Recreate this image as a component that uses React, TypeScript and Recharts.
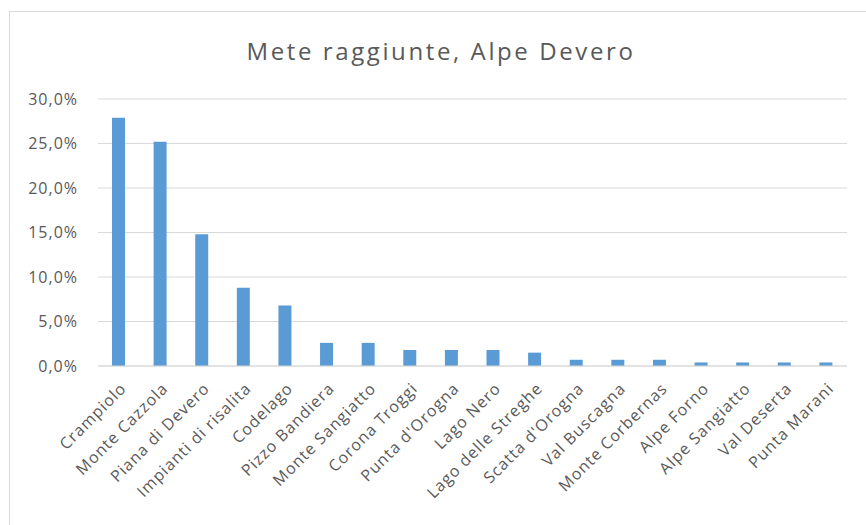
import { BarChart, Bar, XAxis, YAxis, CartesianGrid } from "recharts"

const mete = [
  "Crampiolo",
  "Monte Cazzola",
  "Piana di Devero",
  "Impianti di risalita",
  "Codelago",
  "Pizzo Bandiera",
  "Monte Sangiatto",
  "Corona Troggi",
  "Punta d'Orogna",
  "Lago Nero",
  "Lago delle Streghe",
  "Scatta d'Orogna",
  "Val Buscagna",
  "Monte Corbernas",
  "Alpe Forno",
  "Alpe Sangiatto",
  "Val Deserta",
  "Punta Marani",
]

const percentuali = [27.9, 25.2, 14.8, 8.8, 6.8, 2.6, 2.6, 1.8, 1.8, 1.8, 1.5, 0.7, 0.7, 0.7, 0.4, 0.4, 0.4, 0.4]

const yTicks = [0, 5, 10, 15, 20, 25, 30]

const data = mete.map((name, i) => ({ name, value: percentuali[i] }))

const FONT = "'Open Sans', 'Noto Sans', sans-serif"
const GREY = "#595959"

function CategoryTick(props: any) {
  const { x, y, payload } = props
  return (
    <g transform={`translate(${x + 5},${y + 12})`}>
      <text
        transform="rotate(-45)"
        textAnchor="end"
        fill={GREY}
        fontSize={16}
        letterSpacing={1}
        fontFamily={FONT}
        dy={5}
      >
        {payload.value}
      </text>
    </g>
  )
}

export default function App() {
  return (
    <div style={{ position: "absolute", left: 0, top: 0, width: 866, height: 525, background: "#fff", overflow: "hidden" }}>
      <div
        style={{
          position: "absolute",
          left: 9,
          top: 11,
          width: 900,
          height: 600,
          borderLeft: "1px solid #d9d9d9",
          borderTop: "1px solid #d9d9d9",
        }}
      />
      <div
        style={{
          position: "absolute",
          left: 0,
          width: 882,
          top: 34,
          textAlign: "center",
          fontFamily: FONT,
          fontSize: 24,
          letterSpacing: 2.6,
          whiteSpace: "nowrap",
          color: GREY,
        }}
      >
        Mete raggiunte, Alpe Devero
      </div>
      <div style={{ position: "absolute", left: 0, top: 0 }}>
        <BarChart width={866} height={525} data={data} margin={{ top: 99, right: 19, bottom: 9, left: 0 }}>
          <CartesianGrid vertical={false} stroke="#d9d9d9" strokeWidth={1} />
          <XAxis
            dataKey="name"
            interval={0}
            height={150}
            tickLine={false}
            axisLine={{ stroke: "#d9d9d9" }}
            tick={<CategoryTick />}
          />
          <YAxis
            width={98}
            domain={[0, 30]}
            ticks={yTicks}
            axisLine={false}
            tickLine={false}
            tickSize={0}
            tickMargin={20}
            tickFormatter={(v: number) => `${v.toFixed(1).replace(".", ",")}%`}
            tick={{ fill: GREY, fontSize: 16, letterSpacing: 1, fontFamily: FONT }}
          />
          <Bar dataKey="value" fill="#5b9bd5" barSize={13} isAnimationActive={false} />
        </BarChart>
      </div>
    </div>
  )
}
